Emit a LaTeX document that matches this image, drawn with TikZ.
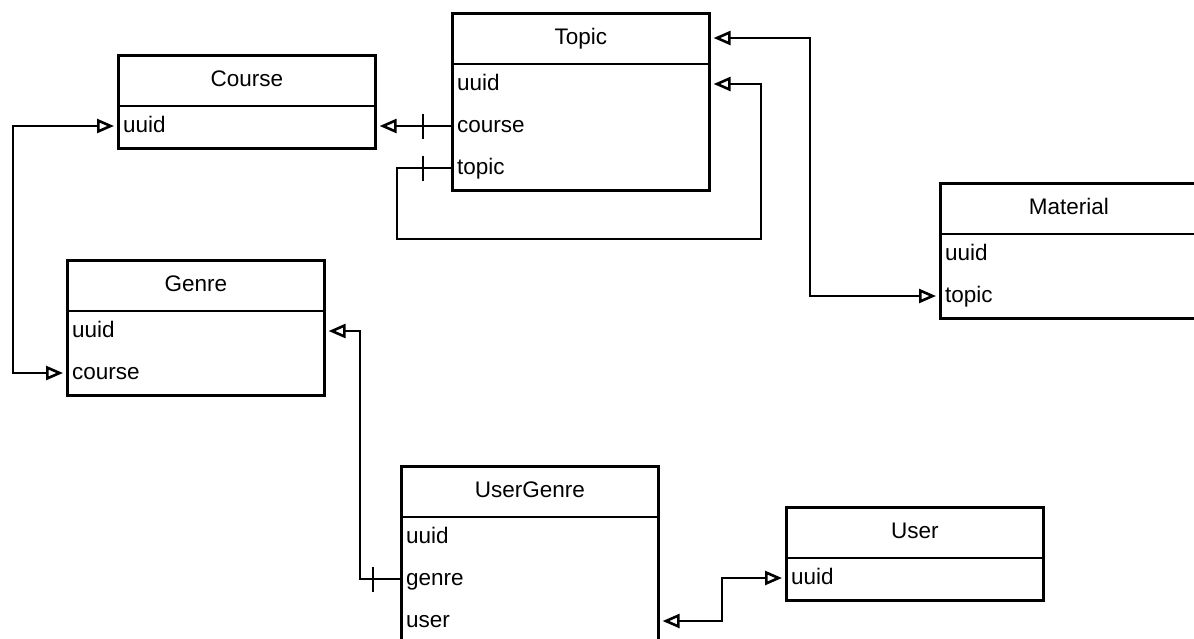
\documentclass[tikz,border=0pt]{standalone}
\usepackage{fontspec}
\setmainfont{Liberation Sans}
\usetikzlibrary{arrows.meta,calc}
\begin{document}
\begin{tikzpicture}[x=1pt,y=-1pt,
  classbox/.style={draw, line width=2.6pt, minimum width=257pt, anchor=north west, inner sep=0pt},
  classtitle/.style={font=\fontsize{22.5}{26}\selectfont, inner sep=0pt, text height=16pt, text depth=4pt},
  field/.style={font=\fontsize{22.5}{26}\selectfont, anchor=west, inner xsep=6pt, inner ysep=0pt, text height=16.5pt, text depth=4pt},
  divider/.style={line width=2.6pt},
  link/.style={line width=2.6pt},
  tick/.style={line width=2.6pt},
  gapend/.style={shorten >=3pt},
  gapstart/.style={shorten <=3pt},
  >={Triangle[open, length=17pt, width=14pt]}
]
\useasboundingbox (0,0) rectangle (1194,638);

% ---- Course ----
\node[classbox, minimum height=93pt] (course) at (117,54) {};
\node[classtitle] (course-t) at ($(course.north)+(0,26)$) {Course};
\draw[divider] ($(course.north west)+(0,52)$) -- ($(course.north east)+(0,52)$);
\node[field] (course-uuid) at ($(course.north west)+(0,72)$) {uuid};

% ---- Topic ----
\node[classbox, minimum height=177pt] (topic) at (451,12) {};
\node[classtitle] (topic-t) at ($(topic.north)+(0,26)$) {Topic};
\draw[divider] ($(topic.north west)+(0,52)$) -- ($(topic.north east)+(0,52)$);
\node[field] (topic-uuid) at ($(topic.north west)+(0,72)$) {uuid};
\node[field] (topic-course) at ($(topic.north west)+(0,114)$) {course};
\node[field] (topic-topic) at ($(topic.north west)+(0,156)$) {topic};

% ---- Material ----
\node[classbox, minimum height=135pt] (material) at (939,182) {};
\node[classtitle] (material-t) at ($(material.north)+(0,26)$) {Material};
\draw[divider] ($(material.north west)+(0,52)$) -- ($(material.north east)+(0,52)$);
\node[field] (material-uuid) at ($(material.north west)+(0,72)$) {uuid};
\node[field] (material-topic) at ($(material.north west)+(0,114)$) {topic};

% ---- Genre ----
\node[classbox, minimum height=135pt] (genre) at (66,259) {};
\node[classtitle] (genre-t) at ($(genre.north)+(0,26)$) {Genre};
\draw[divider] ($(genre.north west)+(0,52)$) -- ($(genre.north east)+(0,52)$);
\node[field] (genre-uuid) at ($(genre.north west)+(0,72)$) {uuid};
\node[field] (genre-course) at ($(genre.north west)+(0,114)$) {course};

% ---- UserGenre ----
\node[classbox, minimum height=177pt] (ug) at (400,465) {};
\node[classtitle] (ug-t) at ($(ug.north)+(0,26)$) {UserGenre};
\draw[divider] ($(ug.north west)+(0,52)$) -- ($(ug.north east)+(0,52)$);
\node[field] (ug-uuid) at ($(ug.north west)+(0,72)$) {uuid};
\node[field] (ug-genre) at ($(ug.north west)+(0,114)$) {genre};
\node[field] (ug-user) at ($(ug.north west)+(0,156)$) {user};

% ---- User ----
\node[classbox, minimum height=93pt] (user) at (785,506) {};
\node[classtitle] (user-t) at ($(user.north)+(0,26)$) {User};
\draw[divider] ($(user.north west)+(0,52)$) -- ($(user.north east)+(0,52)$);
\node[field] (user-uuid) at ($(user.north west)+(0,72)$) {uuid};

% ---- routing columns ----
\coordinate (loopA) at (397,239);
\coordinate (loopB) at (761,239);
\coordinate (tmcol) at (810,0);
\coordinate (cgcol) at (13,0);
\coordinate (gucol) at (360,0);
\coordinate (uucol) at (722,0);

% Topic.course -> Course.uuid
\draw[link,->,gapend] (topic-course.west) -- (topic-course.west -| course.east);
\draw[tick] ($(topic-course.west)+(-28,-12.5)$) -- ++(0,25);

% Topic.topic -> Topic.uuid (self reference)
\draw[link,->,gapend] (topic-topic.west) -| (loopA) -- (loopB) |- (topic-uuid.west -| topic.east);
\draw[tick] ($(topic-topic.west)+(-28,-12.5)$) -- ++(0,25);

% Topic <-> Material.topic
\draw[link,<->,gapend,gapstart] (topic.east |- topic-t) -| (tmcol |- material-topic.west) -- (material-topic.west);

% Course.uuid <-> Genre.course
\draw[link,<->,gapend,gapstart] (course-uuid.west) -| (cgcol |- genre-course.west) -- (genre-course.west);

% UserGenre.genre -> Genre.uuid
\draw[link,<-,gapstart] (genre-uuid.west -| genre.east) -| (gucol |- ug-genre.west) -- (ug-genre.west);
\draw[tick] ($(ug-genre.west)+(-27,-12.5)$) -- ++(0,25);

% UserGenre.user <-> User.uuid
\draw[link,<->,gapend,gapstart] (ug-user.west -| ug.east) -| (uucol |- user-uuid.west) -- (user-uuid.west);
\end{tikzpicture}
\end{document}
